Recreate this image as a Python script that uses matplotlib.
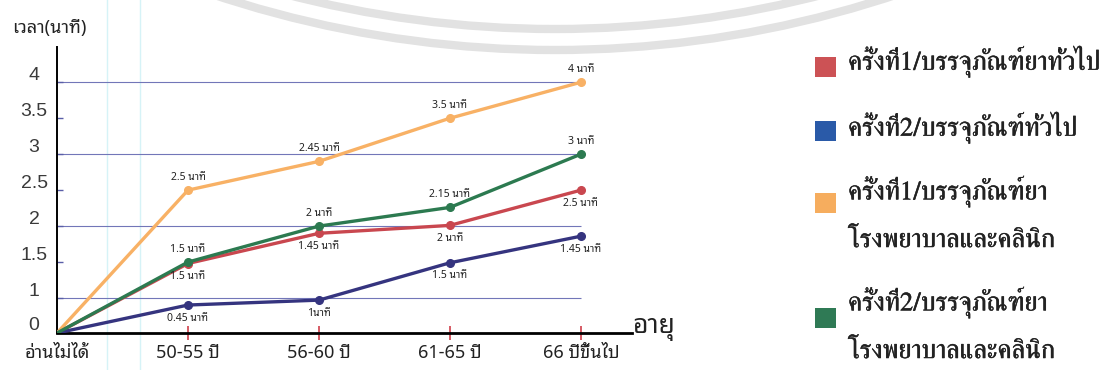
import numpy as np
import matplotlib
matplotlib.use("Agg")
import matplotlib.pyplot as plt
import matplotlib.patheffects as pe
from matplotlib.patches import Arc, Rectangle
from matplotlib.transforms import ScaledTranslation

# data (y = where the point is drawn on the axis)
ages = ["อ่านไม่ได้", "50-55 ปี", "56-60 ปี", "61-65 ปี", "66 ปีขึ้นไป"]
red_y = [0, 1.48, 1.9, 2.01, 2.5]
blue_y = [0, 0.8, 0.94, 1.49, 1.86]
orange_y = [0, 2.5, 2.9, 3.5, 4.0]
green_y = [0, 1.5, 2.0, 2.26, 3.0]

red_lbl = ["1.5 นาที", "1.45 นาที", "2 นาที", "2.5 นาที"]
blue_lbl = ["0.45 นาที", "1นาที", "1.5 นาที", "1.45 นาที"]
orange_lbl = ["2.5 นาที", "2.45 นาที", "3.5 นาที", "4 นาที"]
green_lbl = ["1.5 นาที", "2 นาที", "2.15 นาที", "3 นาที"]

yticks = [0, 1, 1.5, 2, 2.5, 3, 3.5, 4]
ytick_lbl = ["0", "1", "1.5", "2", "2.5", "3", "3.5", "4"]

legend_names = [["ครั้งที่1/บรรจุภัณฑ์ยาทั่วไป"],
                ["ครั้งที่2/บรรจุภัณฑ์ทั่วไป"],
                ["ครั้งที่1/บรรจุภัณฑ์ยา", "โรงพยาบาลและคลินิก"],
                ["ครั้งที่2/บรรจุภัณฑ์ยา", "โรงพยาบาลและคลินิก"]]

c_red, c_blue, c_orange, c_green = "#c9474f", "#35347f", "#f8b165", "#2c7a50"
leg_colors = ["#cc5255", "#2a5aa8", "#f6ad5e", "#2f7a55"]

thai = ["Noto Sans Thai Looped", "DejaVu Sans"]

# y axis is squeezed below 1 in the original
k = 35 / 72
def fwd(v):
    v = np.asarray(v, dtype=float)
    return np.where(v < 1, v * k, v - 1 + k)
def inv(t):
    t = np.asarray(t, dtype=float)
    return np.where(t < k, t / k, t + 1 - k)

fig = plt.figure(figsize=(11.1, 3.7), dpi=100)
W, H = 1110, 370

# watermark rings + faint scan lines
for r in [1081, 1060]:
    fig.add_artist(Arc((555 / W, 1 + 1031 / H), 2 * r / W, 2 * r / H,
                       theta1=240, theta2=300, transform=fig.transFigure,
                       lw=6, color="#e2e2e2", zorder=0))
for xp in [107, 140]:
    fig.add_artist(plt.Line2D([xp / W, xp / W], [0, 1], transform=fig.transFigure,
                              color="#d6f3f7", lw=1, zorder=0))

ax = fig.add_axes([57 / W, 37 / H, 575 / W, 286 / H])
ax.patch.set_alpha(0)
ax.set_yscale("function", functions=(fwd, inv))
ax.set_ylim(0, 4.49)
x = np.arange(len(ages))
ax.set_xlim(0, 4.39)

ax.hlines([1, 2, 3, 4], 0, 4, colors="#7276b8", lw=0.8, zorder=1)

series = [(red_y, red_lbl, c_red, -13), (blue_y, blue_lbl, c_blue, -13),
          (orange_y, orange_lbl, c_orange, 13), (green_y, green_lbl, c_green, 13)]
for ys, lbls, col, dy in series:
    ax.plot(x, ys, color=col, lw=2.4, marker="o", ms=5.5, markevery=slice(1, None),
            zorder=3, solid_capstyle="round")
    for xi, yi, t in zip(x[1:], ys[1:], lbls):
        ax.annotate(t, (xi, yi), xytext=(0, dy), textcoords="offset pixels",
                    ha="center", va="center", fontsize=7.5, family=thai,
                    fontweight="bold", color="#222222", zorder=4)

for s in ["top", "right"]:
    ax.spines[s].set_visible(False)
ax.spines["bottom"].set_linewidth(2)
ax.spines["left"].set_linewidth(1.4)

ax.set_xticks(x)
ax.set_xticklabels(ages, family=thai, fontsize=13, color="#222222")
ax.tick_params(axis="x", direction="inout", length=10, width=1.2, colors="#d0404a",
               labelcolor="#222222", pad=3)
ax.xaxis.get_major_ticks()[0].tick1line.set_visible(False)
ax.get_xticklabels()[0].set_x(0.05)

ax.set_yticks(yticks)
ax.set_yticklabels(ytick_lbl, family="Liberation Sans", fontsize=14, color="#3a3a3a",
                   ha="center")
ax.tick_params(axis="y", direction="in", length=4, width=1, colors="#5a5ea8",
               labelcolor="#3a3a3a", pad=16.5)
ax.yaxis.get_major_ticks()[0].tick1line.set_visible(False)
shift = ScaledTranslation(0, 0.09, fig.dpi_scale_trans)
for lab in ax.get_yticklabels():
    lab.set_transform(lab.get_transform() + shift)

ax.text(1.0, 0, "อายุ", transform=ax.transAxes, ha="left", va="baseline",
        fontsize=19, family=thai, color="#222222")
fig.text(12 / W, 1 - 28 / H, "เวลา(นาที)", ha="left", va="center",
         fontsize=13, family=thai, color="#222222")

# legend drawn at the right
text_y = [62, 128, 192, 303]
box_y = [67, 131, 203, 318]
thick = [pe.withStroke(linewidth=0.35, foreground="#222222")]
for lines, col, ty, by in zip(legend_names, leg_colors, text_y, box_y):
    fig.add_artist(Rectangle((815 / W, 1 - (by + 10) / H), 21 / W, 20 / H,
                             transform=fig.transFigure, color=col, lw=0))
    for j, line in enumerate(lines):
        fig.text(848 / W, 1 - (ty + 49 * j) / H, line, ha="left", va="center",
                 fontsize=19, family=["FreeSerif", "DejaVu Serif"],
                 color="#222222", path_effects=thick)

fig.savefig("out.png", dpi=100)
